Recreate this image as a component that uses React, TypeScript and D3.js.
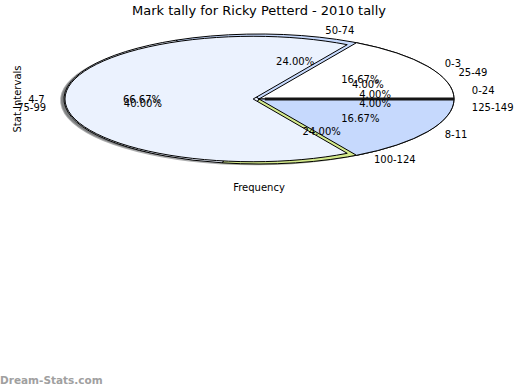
import React, { useEffect, useRef } from 'react';
import * as d3 from 'd3';

// first series: mark ranges per game
const markRanges = ['0-3', '4-7', '8-11'];
const markCounts = [1, 4, 1];
const markColors = ['#ffffff', '#ebf2fe', '#c6d9fd'];

// second series: stat intervals
const statRanges = ['0-24', '25-49', '50-74', '75-99', '100-124', '125-149'];
const statCounts = [1, 1, 6, 10, 6, 1];
const statColors = ['#ffffff', '#ffffff', '#c6d9fd', '#ebf2fe', '#d4ea8c', '#ffffff'];

const title = 'Mark tally for Ricky Petterd - 2010 tally';

export default function App() {
  const ref = useRef<SVGSVGElement>(null);

  useEffect(() => {
    const cx = 259, cy = 99, rx = 195, ry = 65;
    const font = 'DejaVu Sans, Verdana, sans-serif';
    const svg = d3.select(ref.current);
    svg.selectAll('*').remove();

    // matplotlib style: start at 3 o'clock, go counter clockwise
    const pie = d3.pie<number>().sort(null)
      .startAngle(Math.PI / 2)
      .endAngle(Math.PI / 2 - 2 * Math.PI);
    const arc = d3.arc<d3.PieArcDatum<number>>().innerRadius(0).outerRadius(rx);

    const statArcs = pie(statCounts);
    const markArcs = pie(markCounts);
    const statTotal = d3.sum(statCounts);
    const markTotal = d3.sum(markCounts);

    // explode and shrink of the big slice
    const markExplode = [0, 0.03, 0];
    const markScale = [1, 0.965, 1];

    const mid = (a: d3.PieArcDatum<number>) => (a.startAngle + a.endAngle) / 2;
    const pt = (ang: number, k: number) => [cx + rx * k * Math.sin(ang), cy - ry * k * Math.cos(ang)];

    const layers = [
      { arcs: statArcs, colors: statColors, explode: statCounts.map(() => 0), scale: statCounts.map(() => 1) },
      { arcs: markArcs, colors: markColors, explode: markExplode, scale: markScale },
    ];

    const wedgeTransform = (a: d3.PieArcDatum<number>, e: number, s: number, sx = 0, sy = 0) => {
      const [ox, oy] = pt(mid(a), e);
      return `translate(${ox + sx},${oy + sy}) scale(${s},${s * ry / rx})`;
    };

    // shadows first
    const shadowG = svg.append('g');
    layers.forEach(l => {
      shadowG.selectAll(null)
        .data(l.arcs)
        .enter()
        .append('path')
        .attr('d', arc)
        .attr('transform', (d, i) => wedgeTransform(d, l.explode[i], l.scale[i], -0.02 * rx, 0.02 * ry))
        .attr('fill', (d, i) => {
          const c = d3.rgb(l.colors[i]);
          return d3.rgb(c.r * 0.3, c.g * 0.3, c.b * 0.3).toString();
        })
        .attr('opacity', 0.45);
    });

    layers.forEach(l => {
      svg.append('g')
        .selectAll(null)
        .data(l.arcs)
        .enter()
        .append('path')
        .attr('d', arc)
        .attr('transform', (d, i) => wedgeTransform(d, l.explode[i], l.scale[i]))
        .attr('fill', (d, i) => l.colors[i])
        .attr('stroke', '#000')
        .attr('stroke-width', 1)
        .attr('vector-effect', 'non-scaling-stroke')
        .attr('stroke-linejoin', 'round');
    });

    // dark seam at the first slice boundary
    const seamA = statArcs[0].startAngle;
    const [sx1, sy1] = pt(seamA, 0.03);
    const [sx2, sy2] = pt(seamA, 1);
    svg.append('line')
      .attr('x1', sx1).attr('y1', sy1)
      .attr('x2', sx2).attr('y2', sy2)
      .attr('stroke', '#151515')
      .attr('stroke-width', 3);

    const addLabels = (arcs: d3.PieArcDatum<number>[], names: string[], total: number) => {
      arcs.forEach((a, i) => {
        const m = mid(a);
        const [lx, ly] = pt(m, 1.1);
        svg.append('text')
          .attr('x', lx).attr('y', ly)
          .attr('text-anchor', Math.sin(m) > 0 ? 'start' : 'end')
          .attr('dominant-baseline', 'central')
          .style('font-family', font).style('font-size', '10px')
          .attr('fill', '#000')
          .text(names[i]);
        const [px, py] = pt(m, 0.6);
        svg.append('text')
          .attr('x', px).attr('y', py)
          .attr('text-anchor', 'middle')
          .attr('dominant-baseline', 'central')
          .style('font-family', font).style('font-size', '10px')
          .attr('fill', '#000')
          .text(d3.format('.2f')((a.data / total) * 100) + '%');
      });
    };
    addLabels(statArcs, statRanges, statTotal);
    addLabels(markArcs, markRanges, markTotal);

    svg.append('text')
      .attr('x', cx).attr('y', 15)
      .attr('text-anchor', 'middle')
      .style('font-family', font).style('font-size', '13px')
      .text(title);

    svg.append('text')
      .attr('transform', `translate(21,${cy}) rotate(-90)`)
      .attr('text-anchor', 'middle')
      .style('font-family', font).style('font-size', '10px')
      .text('Stat Intervals');

    svg.append('text')
      .attr('x', cx).attr('y', 191)
      .attr('text-anchor', 'middle')
      .style('font-family', font).style('font-size', '10px')
      .text('Frequency');

    svg.append('text')
      .attr('x', 0).attr('y', 384)
      .style('font-family', font).style('font-size', '10.5px')
      .style('font-weight', 'bold')
      .attr('fill', '#a0a0a0')
      .text('Dream-Stats.com');
  }, []);

  return (
    <svg ref={ref} width={520} height={390}
      style={{ position: 'absolute', left: 0, top: 0, background: '#fff' }} />
  );
}
